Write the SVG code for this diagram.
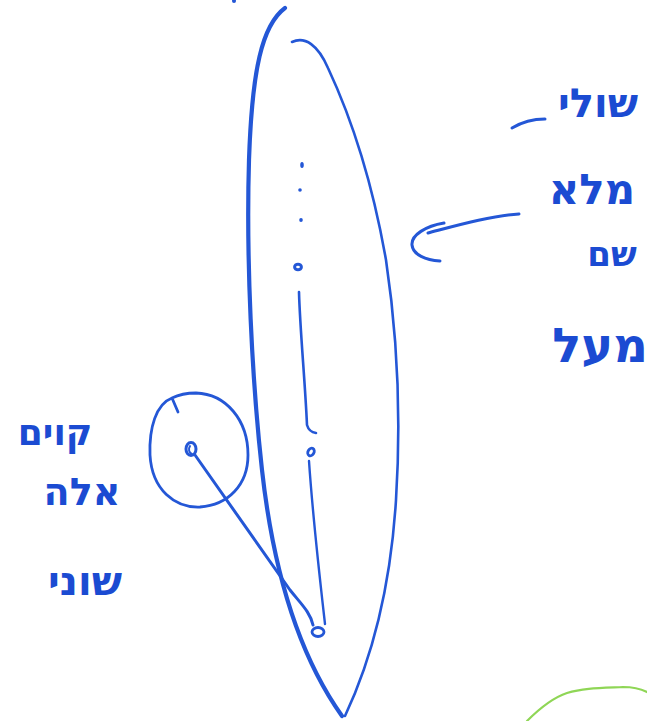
<svg xmlns="http://www.w3.org/2000/svg" width="647" height="721" viewBox="0 0 647 721">
<style>
.s{fill:none;stroke:#2457d6;stroke-linecap:round;stroke-linejoin:round}
.t{font-family:"DejaVu Sans",sans-serif;font-weight:bold;fill:#1b4bd2;text-anchor:middle;direction:rtl}
</style>
<rect width="647" height="721" fill="#ffffff"/>
<g id="set">
<path class="s" stroke-width="4.2" d="M285,8 C262,25 252,70 249,160 C246,260 252,380 262,470 C272,560 295,650 342,716"/>
<path class="s" stroke-width="2.6" d="M292,42 C305,36 318,45 328,68 C350,115 372,180 386,260 C398,340 401,420 396,500 C391,580 376,650 345,716"/>
<circle cx="234" cy="1" r="2" fill="#2457d6"/>
</g>
<g id="dots">
<ellipse cx="302" cy="165" rx="1.8" ry="3" fill="#2457d6"/>
<ellipse cx="300" cy="190" rx="1.8" ry="1.8" fill="#2457d6"/>
<ellipse cx="301" cy="220" rx="1.8" ry="2" fill="#2457d6"/>
</g>
<g id="p1"><ellipse class="s" stroke-width="3" cx="298" cy="267" rx="3.4" ry="2.8"/></g>
<g id="p2"><ellipse class="s" stroke-width="2.8" cx="311" cy="452" rx="3" ry="4" transform="rotate(30 311 452)"/></g>
<g id="p3"><ellipse class="s" stroke-width="2.8" cx="318" cy="632" rx="6" ry="4.5"/></g>
<g id="outer">
<ellipse class="s" stroke-width="3" cx="191" cy="449" rx="5" ry="6.5"/>
<path class="s" stroke-width="2" d="M190,446 C188,449 189,453 192,454"/>
<path class="s" stroke-width="2.8" d="M178,412 L172,398 C156,404 149,428 150,455 C152,490 175,508 200,507 C228,505 248,485 248,455 C248,420 226,394 196,393 C186,393 178,395 172,398"/>
</g>
<g id="connectors">
<path class="s" stroke-width="2.6" d="M299,292 C300,330 305,380 307,425 Q309,432 316,433"/>
<path class="s" stroke-width="2.4" d="M309,461 C313,520 320,580 325,624"/>
<path class="s" stroke-width="3" d="M195,455 C230,505 265,555 290,590 C302,605 310,612 313,625"/>
<path class="s" stroke-width="3" d="M519,214 C490,216 455,226 428,233"/>
<path class="s" stroke-width="3" d="M444,223 C426,226 411,235 412,245 C413,255 426,260 440,261"/>
<path class="s" stroke-width="3" d="M512,128 C522,122 533,119 545,119"/>
</g>
<g id="labels-right">
<text class="t" x="598" y="117" font-size="40">שולי</text>
<text class="t" x="592" y="204" font-size="42">מלא</text>
<text class="t" x="612" y="266" font-size="34">שם</text>
<text class="t" x="600" y="362" font-size="48">מעל</text>
</g>
<g id="labels-left">
<text class="t" x="55" y="445" font-size="36">קוים</text>
<text class="t" x="82" y="505" font-size="38">אלה</text>
<text class="t" x="85" y="595" font-size="40">שוני</text>
</g>
<path fill="none" stroke="#8fd656" stroke-width="2.2" stroke-linecap="round" d="M527,721 C540,708 552,698 567,693 C583,688 600,688 623,687 C633,687 641,689 647,692"/>
</svg>
